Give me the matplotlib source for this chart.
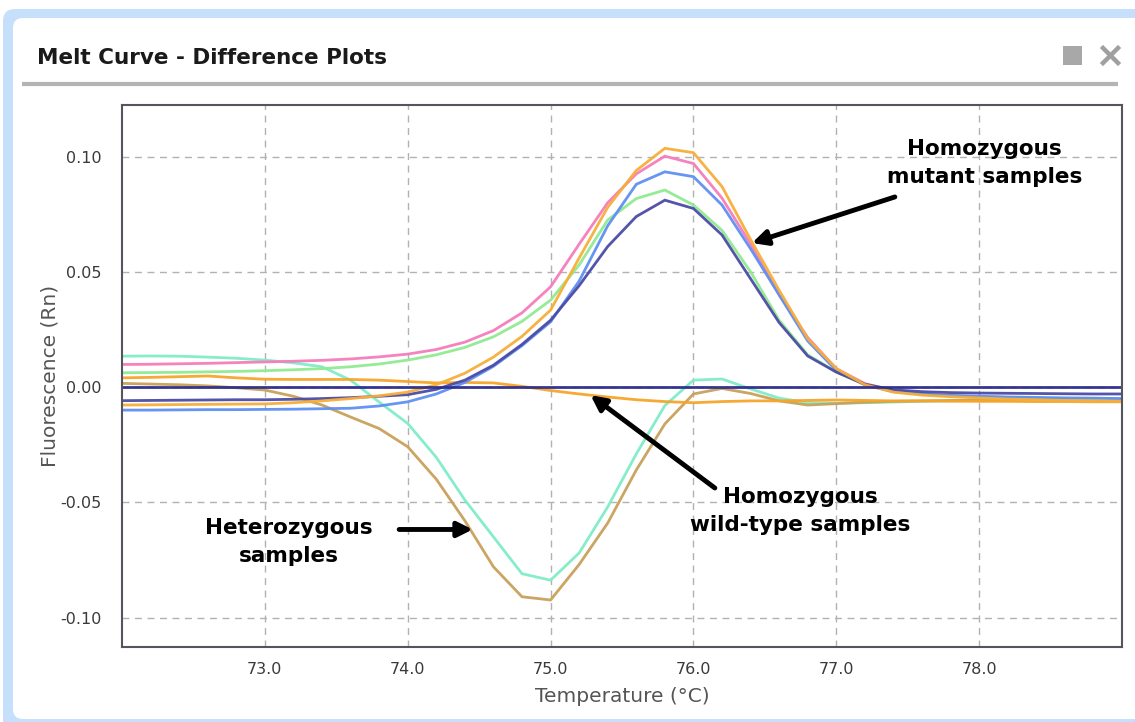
import matplotlib

matplotlib.use("Agg")
import matplotlib.pyplot as plt
from matplotlib.patches import FancyBboxPatch, Rectangle

# temperature grid (°C) shared by every well
temps = [72.0, 72.2, 72.4, 72.6, 72.8, 73.0, 73.2, 73.4, 73.6, 73.8,
         74.0, 74.2, 74.4, 74.6, 74.8, 75.0, 75.2, 75.4, 75.6, 75.8,
         76.0, 76.2, 76.4, 76.6, 76.8, 77.0, 77.2, 77.4, 77.6, 77.8,
         78.0, 78.2, 78.4, 78.6, 78.8, 79.0]

# homozygous mutant wells
mut_pink = [0.0098, 0.0099, 0.0101, 0.0103, 0.0106, 0.0109, 0.0112, 0.0116, 0.0122, 0.0131,
            0.0143, 0.0163, 0.0195, 0.0245, 0.0322, 0.0435, 0.0620, 0.0800, 0.0925, 0.1002,
            0.0970, 0.0820, 0.0620, 0.0400, 0.0215, 0.0080, 0.0015, -0.0015, -0.0030, -0.0038,
            -0.0043, -0.0047, -0.0050, -0.0053, -0.0056, -0.0058]
mut_orange = [-0.0078, -0.0077, -0.0076, -0.0075, -0.0074, -0.0073, -0.0068, -0.0060, -0.0050, -0.0038,
              -0.0022, 0.0010, 0.0060, 0.0130, 0.0220, 0.0334, 0.0560, 0.0780, 0.0940, 0.1036,
              0.1017, 0.0870, 0.0640, 0.0420, 0.0210, 0.0080, 0.0010, -0.0022, -0.0035, -0.0042,
              -0.0047, -0.0052, -0.0055, -0.0058, -0.0060, -0.0062]
mut_green = [0.0062, 0.0063, 0.0064, 0.0066, 0.0068, 0.0071, 0.0075, 0.0080, 0.0088, 0.0100,
             0.0117, 0.0140, 0.0172, 0.0218, 0.0285, 0.0377, 0.0530, 0.0725, 0.0818, 0.0855,
             0.0790, 0.0680, 0.0500, 0.0290, 0.0140, 0.0065, 0.0010, -0.0020, -0.0032, -0.0038,
             -0.0042, -0.0045, -0.0047, -0.0049, -0.0050, -0.0052]
mut_blue = [-0.0100, -0.0100, -0.0099, -0.0098, -0.0098, -0.0097, -0.0096, -0.0094, -0.0092, -0.0082,
            -0.0064, -0.0030, 0.0020, 0.0090, 0.0180, 0.0283, 0.0460, 0.0700, 0.0880, 0.0934,
            0.0913, 0.0790, 0.0600, 0.0400, 0.0200, 0.0072, 0.0010, -0.0020, -0.0030, -0.0036,
            -0.0040, -0.0043, -0.0045, -0.0047, -0.0048, -0.0050]
mut_slate = [-0.0059, -0.0058, -0.0057, -0.0056, -0.0055, -0.0055, -0.0053, -0.0050, -0.0046, -0.0040,
             -0.0033, -0.0010, 0.0030, 0.0095, 0.0185, 0.0290, 0.0440, 0.0610, 0.0740, 0.0811,
             0.0775, 0.0660, 0.0470, 0.0280, 0.0135, 0.0065, 0.0012, -0.0012, -0.0020, -0.0024,
             -0.0026, -0.0027, -0.0028, -0.0029, -0.0030, -0.0030]

# heterozygous wells
het_aqua = [0.0134, 0.0135, 0.0134, 0.0130, 0.0125, 0.0117, 0.0105, 0.0088, 0.0030, -0.0065,
            -0.0158, -0.0305, -0.0490, -0.0650, -0.0810, -0.0838, -0.0720, -0.0520, -0.0290, -0.0080,
            0.0030, 0.0035, -0.0008, -0.0048, -0.0068, -0.0070, -0.0068, -0.0065, -0.0062, -0.0060,
            -0.0058, -0.0056, -0.0055, -0.0054, -0.0053, -0.0052]
het_tan = [0.0016, 0.0013, 0.0010, 0.0005, -0.0003, -0.0013, -0.0040, -0.0078, -0.0130, -0.0180,
           -0.0259, -0.0400, -0.0580, -0.0780, -0.0910, -0.0924, -0.0770, -0.0590, -0.0360, -0.0160,
           -0.0030, -0.0006, -0.0028, -0.0060, -0.0078, -0.0072, -0.0066, -0.0062, -0.0060, -0.0058,
           -0.0057, -0.0056, -0.0055, -0.0055, -0.0054, -0.0054]

# homozygous wild-type wells
wt_orange = [0.0040, 0.0042, 0.0045, 0.0048, 0.0040, 0.0034, 0.0033, 0.0033, 0.0033, 0.0030,
             0.0024, 0.0018, 0.0020, 0.0018, 0.0003, -0.0015, -0.0030, -0.0043, -0.0055, -0.0063,
             -0.0068, -0.0063, -0.0060, -0.0060, -0.0058, -0.0056, -0.0058, -0.0060, -0.0060, -0.0061,
             -0.0062, -0.0062, -0.0063, -0.0063, -0.0064, -0.0064]
wt_navy = [0.0002, 0.0002, 0.0002, 0.0002, 0.0002, 0.0002, 0.0002, 0.0002, 0.0002, 0.0002,
           0.0002, 0.0002, 0.0002, 0.0002, 0.0002, 0.0002, 0.0002, 0.0002, 0.0002, 0.0002,
           0.0002, 0.0002, 0.0002, 0.0002, 0.0002, 0.0002, 0.0002, 0.0002, 0.0002, 0.0002,
           0.0002, 0.0002, 0.0002, 0.0002, 0.0002, 0.0002]

xticks = [73.0, 74.0, 75.0, 76.0, 77.0, 78.0]
yticks = [-0.10, -0.05, 0.00, 0.05, 0.10]

W, H = 1135, 722
fig = plt.figure(figsize=(W / 100, H / 100), dpi=100)
fig.patch.set_facecolor("white")

# --- window chrome, drawn in pixel coordinates --------------------------
bg = fig.add_axes([0, 0, 1, 1], zorder=0)
bg.set_xlim(0, W)
bg.set_ylim(H, 0)
bg.axis("off")
bg.add_patch(FancyBboxPatch((3, 9), W + 40, H + 40,
                            boxstyle="round,pad=0,rounding_size=12",
                            fc="#c6e0fb", ec="none"))
bg.add_patch(FancyBboxPatch((13, 18), W + 20, H - 21,
                            boxstyle="round,pad=0,rounding_size=10",
                            fc="white", ec="none"))
bg.text(37, 58, "Melt Curve - Difference Plots", fontsize=15.5,
        fontweight="bold", color="#1a1a1a", va="center", ha="left")
bg.plot([22, 1118], [84, 84], color="#b4b4b4", lw=3, solid_capstyle="butt")
bg.add_patch(Rectangle((1063, 46), 19, 19, fc="#a8a8a8", ec="none"))
bg.plot([1103, 1118], [48, 63], color="#a0a0a0", lw=3.2)
bg.plot([1103, 1118], [63, 48], color="#a0a0a0", lw=3.2)

# --- difference plot ----------------------------------------------------
ax = fig.add_axes([122 / W, 1 - 647 / H, 1000 / W, 542 / H], zorder=1)
ax.set_facecolor("white")

series = [
    (het_aqua, "#80ecc8"),
    (het_tan, "#c9a05a"),
    (wt_orange, "#f6a52a"),
    (mut_pink, "#f57cba"),
    (mut_green, "#90ea90"),
    (mut_blue, "#5f8ff2"),
    (mut_slate, "#4b4ba6"),
    (mut_orange, "#f7ae3a"),
    (wt_navy, "#2c2c8c"),
]
for vals, col in series:
    ax.plot(temps, vals, color=col, lw=2.0, alpha=0.95, solid_joinstyle="miter")

ax.set_xlim(72.0, 79.0)
ax.set_ylim(-0.1128, 0.1224)
ax.set_xticks(xticks)
ax.set_yticks(yticks)
ax.set_xticklabels([f"{t:.1f}" for t in xticks])
ax.set_yticklabels([f"{v:.2f}" for v in yticks])
ax.tick_params(length=0, labelsize=11.5, labelcolor="#3a3a3a")
ax.tick_params(axis="x", pad=11)
ax.tick_params(axis="y", pad=15)
ax.grid(True, color="#b2b2b2", lw=1.0, linestyle=(0, (5, 4)))
ax.set_axisbelow(True)
for sp in ax.spines.values():
    sp.set_color("#55555f")
    sp.set_linewidth(1.5)

ax.set_xlabel("Temperature (°C)", fontsize=14.5, color="#555555", labelpad=7)
ax.set_ylabel("Fluorescence (Rn)", fontsize=14.5, color="#555555", labelpad=0)

# --- genotype call-outs -------------------------------------------------
arrow = dict(arrowstyle="-|>,head_length=0.9,head_width=0.45",
             color="black", lw=3.5, shrinkA=0, shrinkB=0)
note = dict(fontsize=15.5, fontweight="bold", color="black",
            ha="center", va="center", linespacing=1.5)

ax.text(78.04, 0.0972, "Homozygous\nmutant samples", **note)
ax.annotate("", xy=(76.41, 0.0625), xytext=(77.41, 0.0825), arrowprops=arrow)

ax.text(76.75, -0.0538, "Homozygous\nwild-type samples", **note)
ax.annotate("", xy=(75.28, -0.0035), xytext=(76.15, -0.0438), arrowprops=arrow)

ax.text(73.17, -0.0673, "Heterozygous\nsamples", **note)
ax.annotate("", xy=(74.455, -0.0618), xytext=(73.94, -0.0618), arrowprops=arrow)

fig.savefig("out.png", dpi=100)
